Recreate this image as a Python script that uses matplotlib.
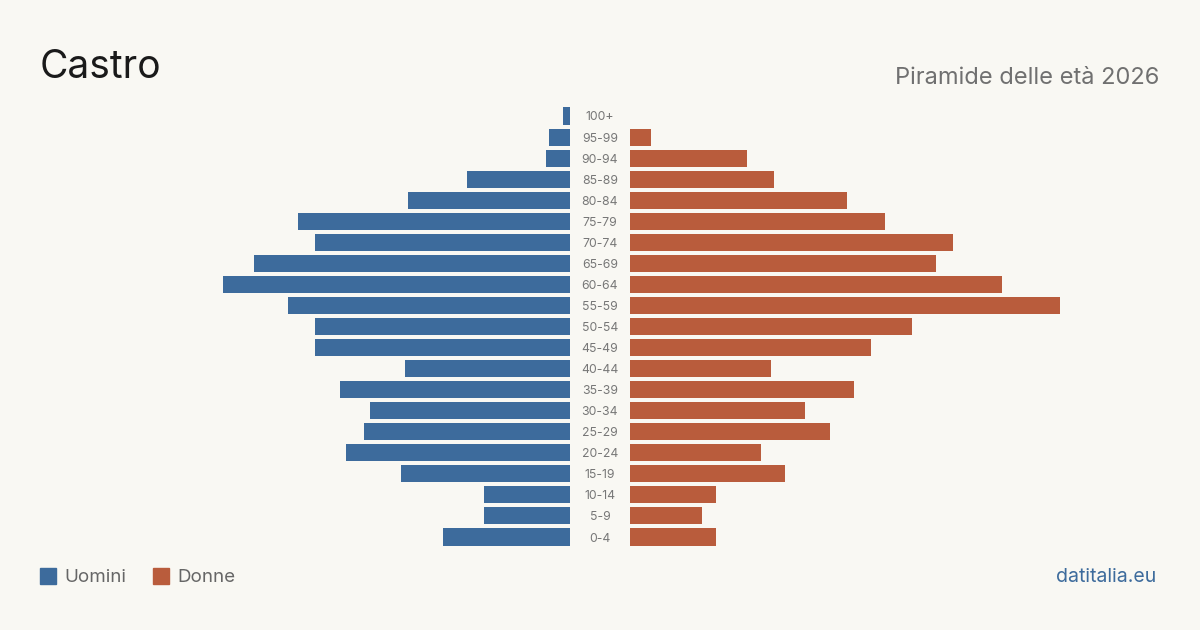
import matplotlib
matplotlib.use("Agg")
import matplotlib.pyplot as plt
from matplotlib.patches import Rectangle

ages = ["0-4", "5-9", "10-14", "15-19", "20-24", "25-29", "30-34", "35-39",
        "40-44", "45-49", "50-54", "55-59", "60-64", "65-69", "70-74",
        "75-79", "80-84", "85-89", "90-94", "95-99", "100+"]
uomini = [37, 25, 25, 49, 65, 60, 58, 67, 48, 74, 74, 82, 101, 92, 74, 79, 47, 30, 7, 6, 2]
donne = [25, 21, 25, 45, 38, 58, 51, 65, 41, 70, 82, 125, 108, 89, 94, 74, 63, 42, 34, 6, 0]

BG = "#f9f8f3"
BLUE = "#3d6b9c"
ORANGE = "#b95c3c"
FONT = ["Inter", "DejaVu Sans"]
plt.rcParams["font.family"] = FONT

W, H = 1200, 630
fig = plt.figure(figsize=(12, 6.3), dpi=100, facecolor=BG)

def box(x0, y0, x1, y1):
    return [x0 / W, 1 - y1 / H, (x1 - x0) / W, (y1 - y0) / H]

scale = 3.44
top, bottom = 105.5, 547.5
axL = fig.add_axes(box(40, top, 570, bottom))
axR = fig.add_axes(box(630, top, 1160, bottom))
xmax = 530 / scale
y = list(range(len(ages)))
axL.barh(y, uomini, height=0.81, color=BLUE)
axR.barh(y, donne, height=0.81, color=ORANGE)
axL.set_xlim(xmax, 0)
axR.set_xlim(0, xmax)
for ax in (axL, axR):
    ax.set_ylim(-0.5, len(ages) - 0.5)
    ax.axis("off")
    ax.set_facecolor("none")

for i, a in enumerate(ages):
    yc = 538.5 - i * (537 - 116) / 20
    fig.text(600 / W, 1 - yc / H, a, ha="center", va="center",
             fontsize=8.8, color="#777777")

fig.text(40 / W, 1 - 68 / H, "Castro", ha="left", va="center",
         fontsize=28, color="#1a1a1a")
fig.text(1159 / W, 1 - 78 / H, "Piramide delle età 2026", ha="right", va="center",
         fontsize=17, color="#707070")

# legend
fig.patches.append(Rectangle((40 / W, 1 - 584 / H), 16 / W, 16 / H,
                             transform=fig.transFigure, color=BLUE))
fig.text(64 / W, 1 - 577.5 / H, "Uomini", ha="left", va="center",
         fontsize=13.5, color="#666666")
fig.patches.append(Rectangle((153 / W, 1 - 584 / H), 16 / W, 16 / H,
                             transform=fig.transFigure, color=ORANGE))
fig.text(177 / W, 1 - 577.5 / H, "Donne", ha="left", va="center",
         fontsize=13.5, color="#666666")

fig.text(1156 / W, 1 - 577.5 / H, "datitalia.eu", ha="right", va="center",
         fontsize=14, color=BLUE)

fig.savefig("out.png", dpi=100, facecolor=BG)
